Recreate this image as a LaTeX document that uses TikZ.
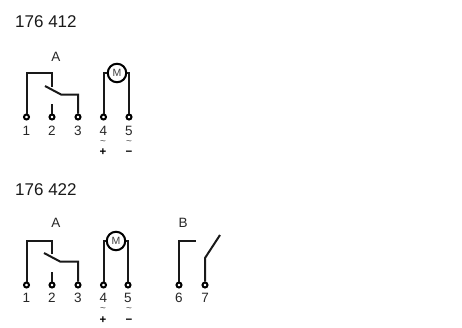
\documentclass[tikz,border=0pt]{standalone}
\usepackage{fontspec}
\setmainfont{Liberation Sans}
\tikzset{
 wire/.style={line width=2pt,line join=miter,black!90},
 term/.style={circle,draw=black,fill=white,line width=2pt,inner sep=0pt,minimum size=5pt},
 lab/.style={inner sep=0pt,anchor=base,font=\fontsize{13.5}{14}\selectfont,text=black!85},
 sign/.style={inner sep=0pt,anchor=base,font=\fontsize{11.5}{12}\selectfont\bfseries,text=black},
 tld/.style={inner sep=0pt,anchor=base,font=\fontsize{10}{10}\selectfont,text=black!70},
 title/.style={inner sep=0pt,anchor=base west,font=\fontsize{17}{18}\selectfont,text=black!90},
 motor/.style={circle,draw=black,fill=white,line width=2pt,inner sep=0pt,minimum size=18.5pt,font=\fontsize{10.5}{11}\selectfont,text=black!75}
}
\begin{document}
\begin{tikzpicture}[x=1pt,y=-1pt]
\useasboundingbox (0,0) rectangle (462,327);
% ---------- 176 412
\node[title] (t1) at (15,27) {176 412};
\node[lab] (a1) at (56,61) {A};
\node[motor] (m1) at (117,73) {M};
\coordinate (jA1) at (52,73);
\coordinate (pA1) at (45,86);
\coordinate (qA1) at (61,94.5);
\coordinate (sA1) at (52,104);
\foreach \n/\x in {1/26.5,2/52,3/78,4/103.5,5/129}{
  \node[term] (p\n) at (\x,117) {};
  \node[lab] (l\n) at (\x,135) {\n};
}
\node[tld] (w4) at (103,144) {\char"7E};
\node[tld] (w5) at (129,144) {\char"7E};
\node[sign] (s4) at (103,155) {+};
\node[sign] (s5) at (129,155) {\char"2212};
\draw[wire] (p1) -- (p1 |- jA1) -- (jA1) -- (52,87);
\draw[wire] (pA1) -- (qA1) -- (qA1 -| p3) -- (p3);
\draw[wire] (p2) -- (sA1);
\draw[wire] (p4) -- (p4 |- m1) -- (m1);
\draw[wire] (p5) -- (p5 |- m1) -- (m1);
% ---------- 176 422
\node[title] (t2) at (15,195) {176 422};
\node[lab] (a2) at (56,227) {A};
\node[lab] (b2) at (183,227) {B};
\node[motor] (m2) at (116,241) {M};
\coordinate (jA2) at (52,240.5);
\coordinate (pA2) at (44,253);
\coordinate (qA2) at (60,261.5);
\coordinate (sA2) at (52,272);
\coordinate (e6) at (195.5,240.5);
\coordinate (k7) at (205,258);
\coordinate (e7) at (220,235);
\foreach \n/\x in {1/26.5,2/52,3/78,4/103.5,5/128,6/179,7/205}{
  \node[term] (r\n) at (\x,285) {};
  \node[lab] (n\n) at (\x,302) {\n};
}
\node[tld] (x4) at (103,311) {\char"7E};
\node[tld] (x5) at (129,311) {\char"7E};
\node[sign] (y4) at (103,323) {+};
\node[sign] (y5) at (129,323) {\char"2212};
\draw[wire] (r1) -- (r1 |- jA2) -- (jA2) -- (52,254);
\draw[wire] (pA2) -- (qA2) -- (qA2 -| r3) -- (r3);
\draw[wire] (r2) -- (sA2);
\draw[wire] (r4) -- (r4 |- m2) -- (m2);
\draw[wire] (r5) -- (r5 |- m2) -- (m2);
\draw[wire] (r6) -- (r6 |- e6) -- (e6);
\draw[wire] (r7) -- (k7) -- (e7);
\end{tikzpicture}
\end{document}
